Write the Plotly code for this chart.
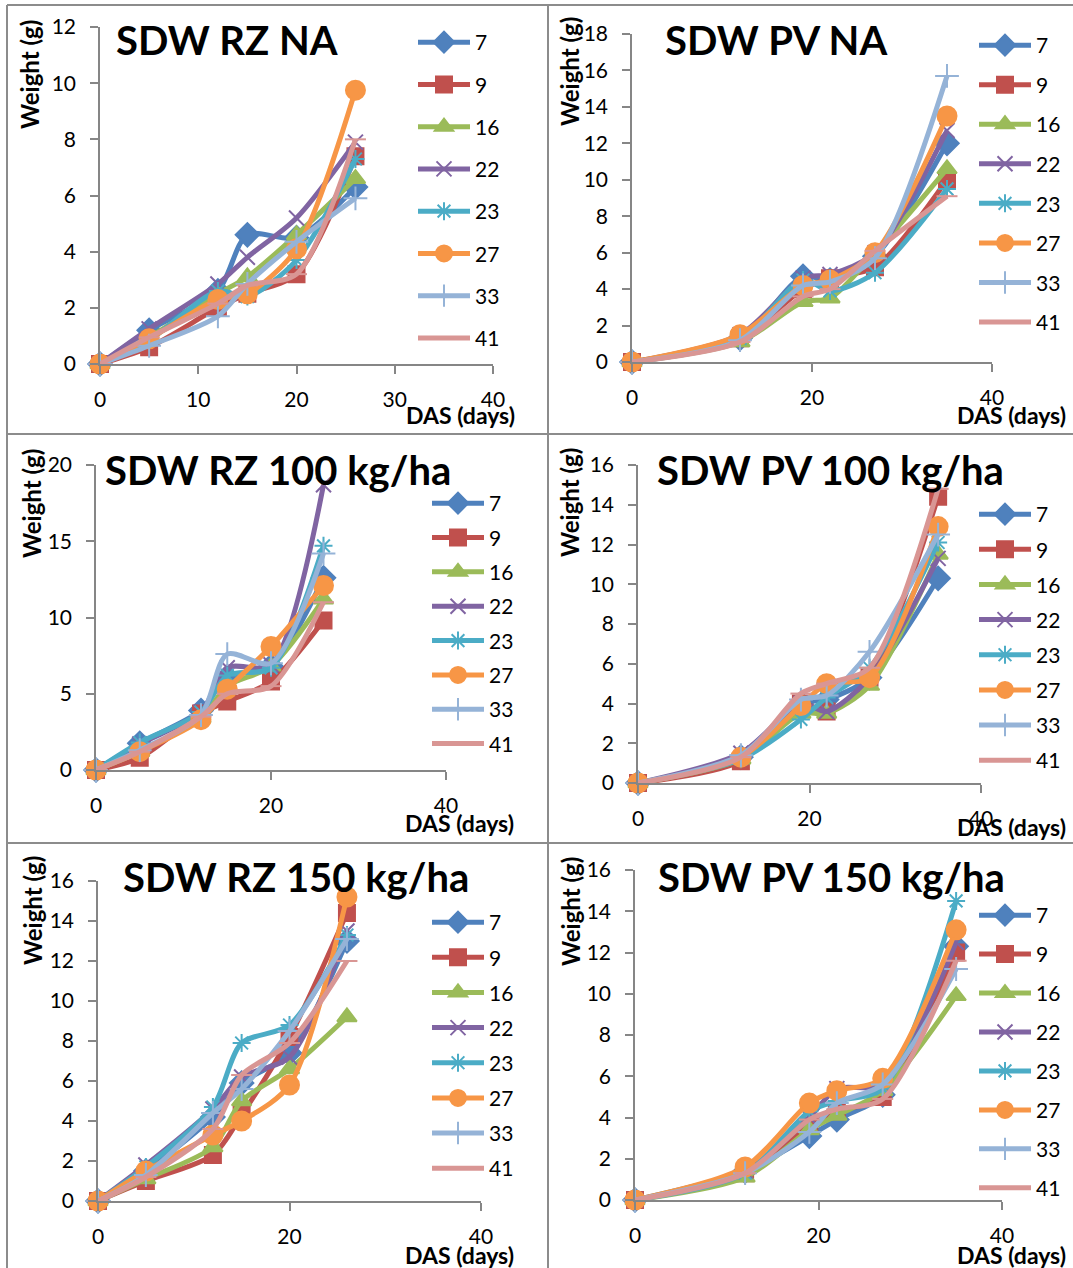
import plotly.graph_objects as go

W, H = 1073, 1268

series_names = ["7", "9", "16", "22", "23", "27", "33", "41"]
das_rz = [0, 5, 12, 15, 20, 26]
das_pv = [0, 12, 19, 22, 27, 35]

# rows follow series_names order
sdw_rz_na = [
    [0, 1.2, 2.6, 4.6, 4.5, 6.3],
    [0, 0.6, 2.0, 2.5, 3.2, 7.4],
    [0, 0.95, 2.5, 3.1, 4.6, 6.6],
    [0, 1.25, 2.85, 3.8, 5.2, 7.9],
    [0, 0.85, 2.6, 2.4, 3.7, 7.3],
    [0, 0.9, 2.3, 2.5, 4.1, 9.75],
    [0, 0.65, 1.7, 2.85, 4.35, 5.9],
    [0, 0.95, 2.15, 2.8, 3.2, 8.0],
]
sdw_pv_na = [
    [0, 1.3, 4.7, 4.5, 5.8, 12.0],
    [0, 1.3, 4.0, 4.6, 5.2, 10.0],
    [0, 1.1, 3.3, 3.5, 6.0, 10.6],
    [0, 1.5, 4.6, 4.8, 6.0, 12.7],
    [0, 1.3, 4.5, 3.9, 4.9, 9.5],
    [0, 1.5, 4.2, 4.5, 6.0, 13.5],
    [0, 1.2, 4.2, 4.4, 5.7, 15.7],
    [0, 1.1, 3.6, 4.0, 6.1, 9.1],
]
sdw_rz_100 = [
    [0, 1.75, 3.9, 6.1, 6.8, 12.6],
    [0, 0.8, 3.7, 4.5, 5.8, 9.8],
    [0, 1.2, 3.4, 5.5, 6.8, 11.2],
    [0, 1.7, 3.8, 6.7, 6.9, 18.7],
    [0, 1.8, 3.8, 6.2, 6.7, 14.7],
    [0, 1.2, 3.3, 5.3, 8.1, 12.1],
    [0, 1.3, 3.6, 7.6, 7.0, 14.2],
    [0, 1.2, 3.5, 5.0, 5.5, 11.0],
]
sdw_pv_100 = [
    [0, 1.3, 4.0, 4.2, 5.3, 10.3],
    [0, 1.1, 4.0, 3.6, 5.3, 14.4],
    [0, 1.2, 3.5, 3.5, 4.9, 11.5],
    [0, 1.5, 4.0, 3.6, 5.3, 11.3],
    [0, 1.2, 3.2, 4.3, 5.8, 12.1],
    [0, 1.3, 3.9, 5.0, 5.3, 12.9],
    [0, 1.4, 4.2, 4.4, 6.6, 12.5],
    [0, 1.3, 4.5, 5.0, 5.8, 14.8],
]
sdw_rz_150 = [
    [0, 1.5, 4.2, 5.9, 7.4, 13.0],
    [0, 1.0, 2.3, 4.3, 8.2, 14.4],
    [0, 1.1, 2.7, 5.0, 6.6, 9.2],
    [0, 1.8, 4.6, 6.2, 7.2, 13.5],
    [0, 1.7, 4.7, 7.9, 8.8, 13.3],
    [0, 1.5, 3.3, 4.0, 5.8, 15.2],
    [0, 1.3, 4.4, 5.6, 8.5, 13.1],
    [0, 1.2, 3.6, 6.3, 7.9, 12.0],
]
sdw_pv_150 = [
    [0, 1.4, 3.1, 3.9, 5.1, 12.3],
    [0, 1.3, 3.6, 4.3, 5.0, 12.0],
    [0, 1.1, 3.4, 4.1, 5.3, 9.9],
    [0, 1.4, 4.0, 5.4, 5.6, 12.5],
    [0, 1.3, 4.3, 4.8, 5.4, 14.5],
    [0, 1.6, 4.7, 5.3, 5.9, 13.1],
    [0, 1.3, 3.3, 4.7, 5.6, 11.2],
    [0, 1.3, 3.9, 4.4, 4.9, 11.6],
]

colors = ["#4F81BD", "#C0504D", "#9BBB59", "#8064A2", "#4BACC6", "#F79646", "#95B3D7", "#D99694"]
symbols = ["diamond", "square", "triangle-up", "x-thin-open", "asterisk-open", "circle",
           "cross-thin-open", "line-ew-open"]
msizes = [18, 16, 17, 15, 15, 19, 17, 15]

FONT = "Lato"
GRAY = "#868686"

# layout spec (pixels): axis box x0,x1,y0(bottom),y1(top); title pos; legend left, first item y, spacing
panels = [
    dict(title="SDW RZ NA", x=das_rz, data=sdw_rz_na, box=(100, 493, 364, 27), ymax=12, ydt=2, xdt=10,
         tpos=(114, 40), leg=(413, 43, 42.3), wt=(30, 75), das=(460, 415)),
    dict(title="SDW PV NA", x=das_pv, data=sdw_pv_na, box=(632, 992, 362, 34), ymax=18, ydt=2, xdt=20,
         tpos=(663, 40), leg=(974, 46, 39.6), wt=(570, 72), das=(1011, 415)),
    dict(title="SDW RZ 100 kg/ha", x=das_rz, data=sdw_rz_100, box=(96, 446, 770, 465), ymax=20, ydt=5, xdt=20,
         tpos=(103, 470), leg=(427, 504, 34.4), wt=(32, 504), das=(459, 823)),
    dict(title="SDW PV 100 kg/ha", x=das_pv, data=sdw_pv_100, box=(638, 981, 783, 465), ymax=16, ydt=2, xdt=20,
         tpos=(655, 470), leg=(974, 515, 35.2), wt=(570, 503), das=(1011, 827)),
    dict(title="SDW RZ 150 kg/ha", x=das_rz, data=sdw_rz_150, box=(98, 481, 1201, 881), ymax=16, ydt=2, xdt=20,
         tpos=(121, 877), leg=(427, 923, 35.2), wt=(32, 911), das=(459, 1255)),
    dict(title="SDW PV 150 kg/ha", x=das_pv, data=sdw_pv_150, box=(635, 1002, 1200, 870), ymax=16, ydt=2, xdt=20,
         tpos=(656, 877), leg=(974, 916, 39.0), wt=(570, 912), das=(1011, 1255)),
]

fig = go.Figure()
layout = dict(
    width=W, height=H, margin=dict(l=0, r=0, t=0, b=0, autoexpand=False),
    paper_bgcolor="white", plot_bgcolor="white",
    font=dict(family=FONT, size=21, color="black"),
    annotations=[], shapes=[],
)

def px(x):
    return x / W

def py(y):
    return 1 - y / H

for i, p in enumerate(panels, start=1):
    sfx = "" if i == 1 else str(i)
    x0, x1, y0, y1 = p["box"]
    leg_name = "legend" if i == 1 else f"legend{i}"
    for k, name in enumerate(series_names):
        fig.add_trace(go.Scatter(
            x=p["x"], y=p["data"][k], name=name,
            mode="lines+markers",
            line=dict(color=colors[k], width=5, shape="spline", smoothing=0.8),
            marker=dict(symbol=symbols[k], size=msizes[k], color=colors[k],
                        line=dict(color=colors[k], width=2)),
            xaxis="x" + sfx, yaxis="y" + sfx,
            legend=leg_name, legendgroup=f"p{i}s{k}",
            cliponaxis=False,
        ))
    common = dict(showline=True, linecolor=GRAY, linewidth=1.5, ticks="outside", ticklen=8,
                  tickcolor=GRAY, tickwidth=1.5, showgrid=False, zeroline=False,
                  tickfont=dict(family=FONT, size=21, color="black"), fixedrange=True)
    layout["xaxis" + sfx] = dict(common, domain=[px(x0), px(x1)], range=[0, 40], tick0=0, dtick=p["xdt"],
                                 anchor="y" + sfx, ticklabelstandoff=8)
    layout["yaxis" + sfx] = dict(common, domain=[py(y0), py(y1)], range=[0, p["ymax"]], tick0=0,
                                 dtick=p["ydt"], anchor="x" + sfx, ticklabelstandoff=10)
    lx, ly, sp = p["leg"]
    layout[leg_name] = dict(x=px(lx), y=py(ly - 21), xanchor="left", yanchor="top",
                            bgcolor="rgba(0,0,0,0)", borderwidth=0, traceorder="grouped",
                            tracegroupgap=sp - 30.35, itemwidth=52,
                            font=dict(family=FONT, size=21, color="black"))
    tx, ty = p["tpos"]
    layout["annotations"].append(dict(text=f"<b>{p['title']}</b>", x=px(tx), y=py(ty), xref="paper", yref="paper",
                                      xanchor="left", yanchor="middle", showarrow=False,
                                      font=dict(family=FONT, size=40, color="black")))
    wx, wy = p["wt"]
    layout["annotations"].append(dict(text="<b>Weight (g)</b>", x=px(wx), y=py(wy), xref="paper", yref="paper",
                                      xanchor="center", yanchor="middle", textangle=-90, showarrow=False,
                                      font=dict(family=FONT, size=24, color="black")))
    dx, dy = p["das"]
    layout["annotations"].append(dict(text="<b>DAS (days)</b>", x=px(dx), y=py(dy), xref="paper", yref="paper",
                                      xanchor="center", yanchor="middle", showarrow=False,
                                      font=dict(family=FONT, size=23, color="black")))

border = dict(type="line", xref="paper", yref="paper", line=dict(color="#8C8C8C", width=2))
for (ax, ay, bx, by) in [(7, 5, W, 5), (7, 5, 7, H), (548, 5, 548, H), (7, 434, W, 434), (7, 843, W, 843)]:
    layout["shapes"].append(dict(border, x0=px(ax), y0=py(ay), x1=px(bx), y1=py(by)))

fig.update_layout(**layout)
fig.write_html("out.html", config={"displayModeBar": False},
               post_script="document.body.style.margin='0';document.documentElement.style.overflow='hidden';document.body.style.overflow='hidden';")
